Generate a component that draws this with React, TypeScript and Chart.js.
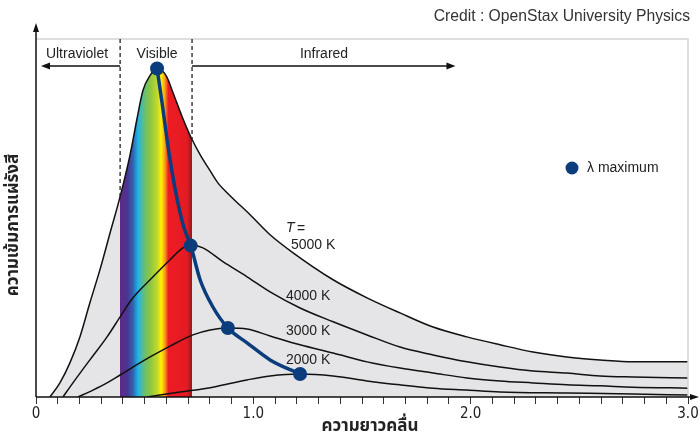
import React, { useEffect, useRef } from 'react';
import { Chart, registerables } from 'chart.js';

Chart.register(...registerables);

// Wavelength (µm) and relative spectral intensity
const WL_5000K = [0.064, 0.11, 0.156, 0.202, 0.248, 0.294, 0.341, 0.387, 0.433, 0.465, 0.492, 0.525, 0.557, 0.58, 0.603, 0.63, 0.672, 0.699, 0.718, 0.755, 0.801, 0.837, 0.893, 0.985, 1.077, 1.183, 1.367, 1.523, 1.675, 1.827, 1.983, 2.135, 2.287, 2.443, 2.595, 2.747, 3.0];
const I_5000K = [0, 4.3, 10.4, 18.3, 28.7, 38.7, 50.0, 61.0, 73.8, 84.8, 93.3, 97.9, 100, 99.4, 97.3, 92.7, 85.4, 81.1, 78.4, 73.8, 68.9, 65.2, 61.3, 55.5, 49.4, 43.9, 35.7, 30.2, 25.6, 21.3, 18.3, 15.9, 13.7, 12.2, 11.3, 10.7, 10.7];

const WL_4000K = [0.124, 0.17, 0.248, 0.327, 0.387, 0.446, 0.525, 0.617, 0.676, 0.716, 0.768, 0.86, 0.971, 1.077, 1.215, 1.367, 1.523, 1.675, 1.827, 1.983, 2.135, 2.287, 2.443, 2.595, 2.747, 3.0];
const I_4000K = [0, 4.3, 11.3, 18.3, 24.4, 30.2, 35.7, 41.8, 45.4, 46.3, 45.4, 41.2, 36.6, 32.0, 27.1, 22.9, 18.9, 15.2, 12.8, 10.7, 9.1, 7.9, 7.3, 6.4, 6.1, 5.8];

const WL_3000K = [0.193, 0.262, 0.327, 0.387, 0.446, 0.525, 0.617, 0.722, 0.801, 0.883, 0.971, 1.077, 1.215, 1.367, 1.523, 1.675, 1.827, 1.983, 2.135, 2.287, 2.443, 2.595, 2.747, 3.0];
const I_3000K = [0, 2.1, 4.3, 6.7, 9.1, 12.2, 15.5, 18.9, 20.4, 21.0, 20.7, 18.6, 15.9, 13.4, 10.7, 8.8, 7.3, 5.8, 4.9, 4.3, 3.7, 3.4, 3.0, 2.7];

const WL_2000K = [0.511, 0.663, 0.814, 0.971, 1.077, 1.215, 1.367, 1.523, 1.675, 1.827, 1.983, 2.135, 2.443, 2.747, 3.0];
const I_2000K = [0, 1.5, 3.0, 5.2, 6.4, 7.0, 6.4, 4.9, 3.7, 2.7, 2.1, 1.5, 1.2, 0.9, 0.6];

// Path of the peak wavelength (Wien displacement)
const WL_PEAK_PATH = [0.557, 0.58, 0.603, 0.626, 0.653, 0.681, 0.712, 0.755, 0.814, 0.883, 0.971, 1.077, 1.215];
const I_PEAK_PATH = [100, 89.6, 78.4, 68.6, 59.1, 51.5, 46.1, 35.7, 27.4, 21.0, 16.5, 11.3, 7.0];

const WL_PEAKS = [0.557, 0.712, 0.883, 1.215];
const I_PEAKS = [100, 46.1, 21.0, 7.0];

const CURVE_LABELS = ['5000 K', '4000 K', '3000 K', '2000 K'];
const X_TICK_LABELS = ['0', '1.0', '2.0', '3.0'];
const VISIBLE_RANGE = [0.387, 0.718];
const X_MAX = 3.0;
const Y_MAX = 109;

const SPECTRUM_STOPS: [number, string][] = [
  [0, '#5f2a86'],
  [0.1, '#4d3391'],
  [0.18, '#2e64b0'],
  [0.25, '#22b5e8'],
  [0.33, '#64bd7a'],
  [0.42, '#8dc63f'],
  [0.52, '#c5d92d'],
  [0.57, '#fff200'],
  [0.62, '#f9a21b'],
  [0.67, '#ed1c24'],
  [0.93, '#e41b23'],
  [1, '#8e1a1e'],
];

const toXY = (xs: number[], ys: number[]) => xs.map((x, i) => ({ x, y: ys[i] }));

const LATIN = "'Liberation Sans', Arial, sans-serif";
const THAI = "'Noto Sans Thai', 'Noto Sans Thai UI', 'Noto Sans', 'DejaVu Sans', sans-serif";

function arrowHead(ctx: CanvasRenderingContext2D, x: number, y: number, dir: 'l' | 'r' | 'u', len = 9, half = 3.5) {
  ctx.beginPath();
  if (dir === 'l') {
    ctx.moveTo(x, y); ctx.lineTo(x + len, y - half); ctx.lineTo(x + len, y + half);
  } else if (dir === 'r') {
    ctx.moveTo(x, y); ctx.lineTo(x - len, y - half); ctx.lineTo(x - len, y + half);
  } else {
    ctx.moveTo(x, y); ctx.lineTo(x - half, y + len); ctx.lineTo(x + half, y + len);
  }
  ctx.closePath();
  ctx.fill();
}

const annotations = {
  id: 'annotations',
  afterDatasetsDraw(chart: any) {
    const { ctx, chartArea: a, scales } = chart;
    const xs = scales.x;
    const ys = scales.y;
    ctx.save();

    // light frame (top & right)
    ctx.strokeStyle = '#d4d4d4';
    ctx.lineWidth = 1.5;
    ctx.beginPath();
    ctx.moveTo(a.left, a.top);
    ctx.lineTo(a.right, a.top);
    ctx.lineTo(a.right, a.bottom);
    ctx.stroke();

    // dashed boundaries of the visible band, down to the 5000 K curve
    ctx.strokeStyle = '#222';
    ctx.lineWidth = 1.3;
    ctx.setLineDash([4, 3]);
    VISIBLE_RANGE.forEach((v) => {
      const idx = WL_5000K.indexOf(v);
      const px = xs.getPixelForValue(v);
      ctx.beginPath();
      ctx.moveTo(px, a.top);
      ctx.lineTo(px, ys.getPixelForValue(I_5000K[idx]));
      ctx.stroke();
    });
    ctx.setLineDash([]);

    // region arrows
    const arrowY = a.top + 27;
    const uvL = xs.getPixelForValue(0.023);
    const uvR = xs.getPixelForValue(VISIBLE_RANGE[0]);
    const irL = xs.getPixelForValue(VISIBLE_RANGE[1]);
    const irR = xs.getPixelForValue(1.93);
    ctx.strokeStyle = '#111';
    ctx.fillStyle = '#111';
    ctx.lineWidth = 1.5;
    ctx.beginPath();
    ctx.moveTo(uvR, arrowY); ctx.lineTo(uvL + 6, arrowY);
    ctx.moveTo(irL, arrowY); ctx.lineTo(irR - 6, arrowY);
    ctx.stroke();
    arrowHead(ctx, uvL, arrowY, 'l');
    arrowHead(ctx, irR, arrowY, 'r');

    ctx.fillStyle = '#222';
    ctx.font = `14px ${LATIN}`;
    ctx.textAlign = 'center';
    ctx.textBaseline = 'middle';
    const labY = a.top + 15;
    ctx.fillText('Ultraviolet', 77, labY);
    ctx.fillText('Visible', (uvR + irL) / 2 + 1, labY);
    ctx.fillText('Infrared', 324, labY);

    // curve labels
    ctx.textAlign = 'left';
    ctx.font = `italic 14px ${LATIN}`;
    ctx.fillText('T', 286, 228);
    ctx.font = `14px ${LATIN}`;
    ctx.fillText('=', 297, 229);
    ctx.fillText(CURVE_LABELS[0], 291, 245);
    ctx.fillText(CURVE_LABELS[1], 286, 296);
    ctx.fillText(CURVE_LABELS[2], 286, 331);
    ctx.fillText(CURVE_LABELS[3], 286, 360);

    // legend
    ctx.fillStyle = '#0b3d7c';
    ctx.beginPath();
    ctx.arc(572, 168, 6.5, 0, Math.PI * 2);
    ctx.fill();
    ctx.fillStyle = '#222';
    ctx.font = `14px ${LATIN}`;
    ctx.fillText('\u03bb maximum', 587, 168);

    // axes with arrows
    ctx.strokeStyle = '#111';
    ctx.fillStyle = '#111';
    ctx.lineWidth = 1.5;
    ctx.beginPath();
    ctx.moveTo(a.left, a.bottom);
    ctx.lineTo(a.left, 30);
    ctx.moveTo(a.left, a.bottom);
    ctx.lineTo(692, a.bottom);
    ctx.stroke();
    arrowHead(ctx, a.left, 23, 'u', 9, 3);
    arrowHead(ctx, 699, a.bottom, 'r', 9, 3);

    // axis titles
    ctx.fillStyle = '#222';
    ctx.textAlign = 'center';
    ctx.textBaseline = 'middle';
    ctx.font = `bold 17px ${THAI}`;
    ctx.fillText('ความยาวคลื่น', 370, 428);
    ctx.save();
    ctx.translate(15, 225);
    ctx.rotate(-Math.PI / 2);
    ctx.fillText('ความเข้มการแผ่รังสี', 0, 0);
    ctx.restore();

    // credit
    ctx.textAlign = 'right';
    ctx.fillStyle = '#333';
    ctx.font = `15.7px ${LATIN}`;
    ctx.fillText('Credit : OpenStax University Physics', 690, 17);

    ctx.restore();
  },
};

export default function App() {
  const ref = useRef<HTMLCanvasElement>(null);

  useEffect(() => {
    if (!ref.current) return;
    const lineBase = {
      type: 'line' as const,
      fill: false,
      borderColor: '#111',
      borderWidth: 1.5,
      pointRadius: 0,
      cubicInterpolationMode: 'monotone' as const,
    };
    const chart = new Chart(ref.current, {
      type: 'line',
      data: {
        datasets: [
          {
            ...lineBase,
            label: 'peaks',
            data: toXY(WL_PEAKS, I_PEAKS),
            showLine: false,
            pointRadius: 7,
            pointBackgroundColor: '#0b3d7c',
            pointBorderWidth: 0,
            order: 1,
          },
          {
            ...lineBase,
            label: 'peak path',
            data: toXY(WL_PEAK_PATH, I_PEAK_PATH),
            borderColor: '#0b3d7c',
            borderWidth: 3.5,
            order: 2,
          },
          { ...lineBase, label: '5000 K', data: toXY(WL_5000K, I_5000K), order: 5 },
          { ...lineBase, label: '4000 K', data: toXY(WL_4000K, I_4000K), order: 5 },
          { ...lineBase, label: '3000 K', data: toXY(WL_3000K, I_3000K), order: 5 },
          { ...lineBase, label: '2000 K', data: toXY(WL_2000K, I_2000K), order: 5 },
          {
            ...lineBase,
            label: 'spectrum',
            data: toXY(WL_5000K, I_5000K),
            borderWidth: 0,
            fill: 'origin',
            backgroundColor: (c: any) => {
              const ch = c.chart;
              const a = ch.chartArea;
              if (!a) return 'rgba(0,0,0,0)';
              const x0 = ch.scales.x.getPixelForValue(VISIBLE_RANGE[0]);
              const x1 = ch.scales.x.getPixelForValue(VISIBLE_RANGE[1]);
              const w = a.right - a.left;
              const g = ch.ctx.createLinearGradient(a.left, 0, a.right, 0);
              const o0 = (x0 - a.left) / w;
              const o1 = (x1 - a.left) / w;
              g.addColorStop(0, 'rgba(0,0,0,0)');
              g.addColorStop(o0, 'rgba(0,0,0,0)');
              SPECTRUM_STOPS.forEach(([t, col]) => g.addColorStop(o0 + t * (o1 - o0), col));
              g.addColorStop(Math.min(1, o1 + 0.0001), 'rgba(0,0,0,0)');
              g.addColorStop(1, 'rgba(0,0,0,0)');
              return g;
            },
            order: 9,
          },
          {
            ...lineBase,
            label: 'area',
            data: toXY(WL_5000K, I_5000K),
            borderWidth: 0,
            fill: 'origin',
            backgroundColor: '#e5e4e6',
            order: 10,
          },
        ],
      },
      options: {
        animation: false,
        responsive: false,
        devicePixelRatio: 1,
        layout: { padding: { left: 36, top: 39, right: 12, bottom: 0 } },
        plugins: { legend: { display: false }, tooltip: { enabled: false } },
        scales: {
          x: {
            type: 'linear',
            min: 0,
            max: X_MAX,
            afterFit: (s: any) => { s.height = 41; },
            afterBuildTicks: (s: any) => {
              const t = [];
              for (let i = 0; i <= 30; i++) t.push({ value: i / 10 });
              s.ticks = t;
            },
            border: { display: false },
            grid: { drawOnChartArea: false, drawTicks: true, tickLength: 7, color: '#333', lineWidth: 1 },
            ticks: {
              autoSkip: false,
              maxRotation: 0,
              padding: 1,
              color: '#222',
              font: { family: "'Liberation Sans Narrow', 'DejaVu Sans Condensed', 'Liberation Sans', sans-serif", size: 15 },
              callback: (v: any) => {
                const r = Math.round(Number(v) * 10);
                return r % 10 === 0 ? X_TICK_LABELS[r / 10] : '';
              },
            },
          },
          y: { type: 'linear', min: 0, max: Y_MAX, display: false },
        },
      },
      plugins: [annotations],
    });
    return () => chart.destroy();
  }, []);

  return (
    <div style={{ position: 'fixed', left: 0, top: 0, width: 700, height: 438, background: '#fff' }}>
      <canvas ref={ref} width={700} height={438} style={{ display: 'block' }} />
    </div>
  );
}
